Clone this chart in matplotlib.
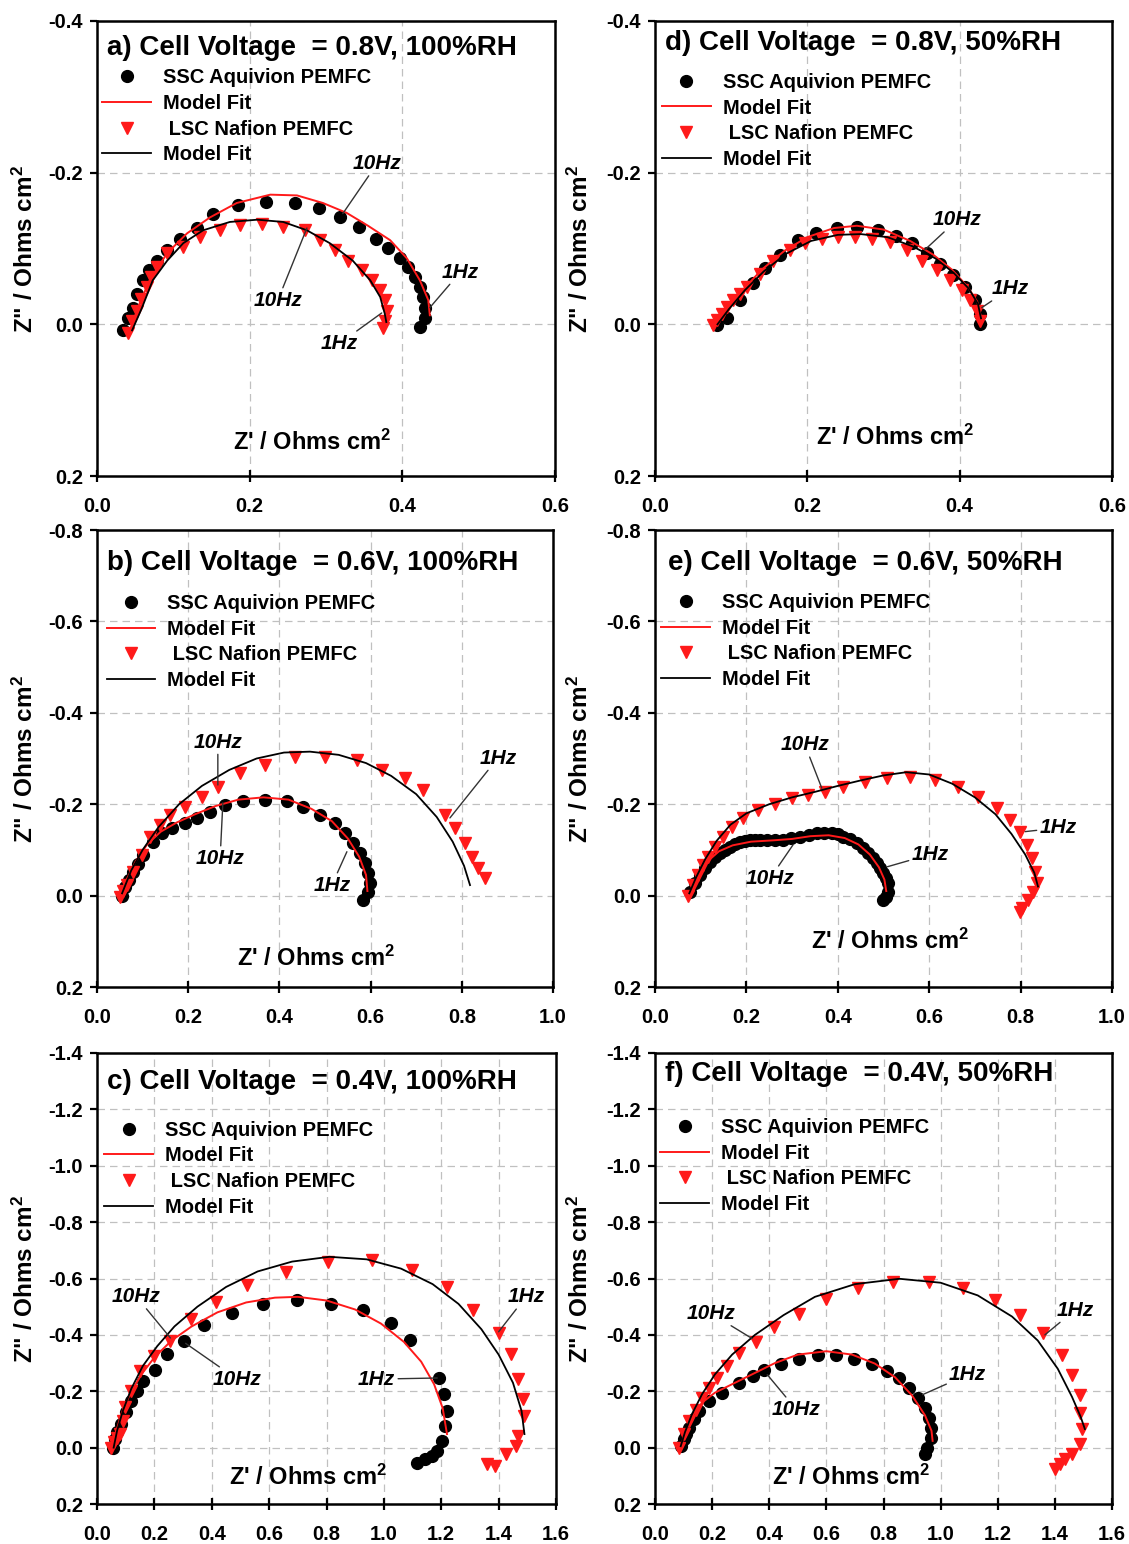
import matplotlib
matplotlib.use('Agg')
import matplotlib.pyplot as plt

plt.rcParams['font.family'] = ['Liberation Sans', 'DejaVu Sans']
plt.rcParams['font.weight'] = 'bold'
plt.rcParams['axes.unicode_minus'] = False
plt.rcParams['mathtext.fontset'] = 'custom'
plt.rcParams['mathtext.rm'] = 'Liberation Sans:bold'
plt.rcParams['mathtext.bf'] = 'Liberation Sans:bold'
plt.rcParams['mathtext.it'] = 'Liberation Sans:bold:italic'
plt.rcParams['mathtext.default'] = 'rm'

# ---------------- data ----------------
# Panel a: 0.8 V, 100 %RH
a_ssc_x = [0.034, 0.040, 0.047, 0.053, 0.060, 0.068, 0.078, 0.092, 0.109, 0.131, 0.152, 0.185, 0.222, 0.259,
           0.291, 0.318, 0.343, 0.366, 0.381, 0.397, 0.408, 0.417, 0.423, 0.427, 0.430, 0.430, 0.423]
a_ssc_y = [0.007, -0.008, -0.022, -0.040, -0.058, -0.072, -0.084, -0.098, -0.113, -0.127, -0.146, -0.157, -0.161, -0.160,
           -0.153, -0.141, -0.128, -0.112, -0.100, -0.088, -0.075, -0.062, -0.049, -0.036, -0.022, -0.009, 0.004]
a_lsc_x = [0.041, 0.046, 0.052, 0.058, 0.065, 0.071, 0.078, 0.092, 0.113, 0.135, 0.161, 0.187, 0.216,
           0.244, 0.272, 0.292, 0.312, 0.329, 0.347, 0.360, 0.371, 0.377, 0.380, 0.377, 0.375]
a_lsc_y = [0.011, -0.004, -0.018, -0.034, -0.049, -0.062, -0.075, -0.094, -0.102, -0.115, -0.124, -0.131, -0.132,
           -0.128, -0.125, -0.111, -0.098, -0.084, -0.071, -0.058, -0.045, -0.032, -0.018, -0.005, 0.005]
a_ssc_fit_x = [0.043, 0.056, 0.069, 0.092, 0.118, 0.148, 0.183, 0.227, 0.262, 0.296, 0.327, 0.355,
               0.384, 0.406, 0.423, 0.434, 0.436]
a_ssc_fit_y = [0.008, -0.028, -0.058, -0.094, -0.120, -0.141, -0.160, -0.171, -0.170, -0.160, -0.147, -0.130,
               -0.111, -0.087, -0.058, -0.032, -0.012]
a_lsc_fit_x = [0.046, 0.059, 0.073, 0.092, 0.113, 0.139, 0.174, 0.210, 0.244, 0.275, 0.305, 0.335,
               0.358, 0.371, 0.377, 0.379]
a_lsc_fit_y = [0.008, -0.022, -0.058, -0.084, -0.107, -0.124, -0.135, -0.138, -0.135, -0.124, -0.107, -0.084,
               -0.058, -0.036, -0.014, -0.003]

# Panel d: 0.8 V, 50 %RH
d_ssc_x = [0.081, 0.094, 0.112, 0.129, 0.144, 0.164, 0.188, 0.212, 0.239, 0.265, 0.293, 0.317, 0.337,
           0.357, 0.374, 0.391, 0.407, 0.420, 0.427, 0.427]
d_ssc_y = [0.001, -0.009, -0.032, -0.054, -0.074, -0.091, -0.111, -0.120, -0.127, -0.128, -0.124, -0.117, -0.107,
           -0.094, -0.080, -0.065, -0.049, -0.032, -0.014, -0.001]
d_lsc_x = [0.076, 0.082, 0.088, 0.095, 0.103, 0.112, 0.121, 0.138, 0.155, 0.177, 0.197, 0.219, 0.240, 0.263,
           0.285, 0.309, 0.331, 0.351, 0.370, 0.387, 0.403, 0.414, 0.423, 0.427]
d_lsc_y = [0.001, -0.006, -0.014, -0.023, -0.032, -0.040, -0.049, -0.067, -0.084, -0.098, -0.107, -0.113, -0.115,
           -0.115, -0.113, -0.108, -0.098, -0.084, -0.071, -0.058, -0.045, -0.032, -0.018, -0.005]
d_ssc_fit_x = [0.080, 0.095, 0.115, 0.140, 0.170, 0.200, 0.235, 0.265, 0.300, 0.335, 0.365, 0.390,
               0.410, 0.423, 0.428, 0.428]
d_ssc_fit_y = [0.000, -0.020, -0.045, -0.072, -0.097, -0.115, -0.127, -0.130, -0.125, -0.110, -0.092, -0.072,
               -0.050, -0.030, -0.010, 0.000]
d_lsc_fit_x = [0.082, 0.097, 0.118, 0.143, 0.172, 0.205, 0.240, 0.270, 0.305, 0.338, 0.368, 0.392,
               0.412, 0.424, 0.428]
d_lsc_fit_y = [0.000, -0.020, -0.045, -0.070, -0.093, -0.110, -0.118, -0.119, -0.115, -0.103, -0.087, -0.068,
               -0.047, -0.027, -0.008]

# Panel b: 0.6 V, 100 %RH
b_ssc_x = [0.055, 0.062, 0.070, 0.079, 0.090, 0.101, 0.123, 0.142, 0.164, 0.193, 0.219, 0.248, 0.281, 0.320,
           0.368, 0.416, 0.452, 0.489, 0.522, 0.544, 0.561, 0.577, 0.588, 0.594, 0.599, 0.594, 0.583]
b_ssc_y = [0.000, -0.018, -0.035, -0.052, -0.070, -0.089, -0.117, -0.137, -0.148, -0.159, -0.170, -0.183, -0.198,
           -0.207, -0.209, -0.207, -0.194, -0.176, -0.159, -0.137, -0.115, -0.093, -0.071, -0.049, -0.027, -0.007, 0.010]
b_lsc_x = [0.050, 0.058, 0.066, 0.079, 0.098, 0.116, 0.138, 0.160, 0.193, 0.230, 0.265, 0.314, 0.368, 0.434,
           0.500, 0.570, 0.625, 0.675, 0.715, 0.763, 0.785, 0.807, 0.822, 0.836, 0.851]
b_lsc_y = [0.003, -0.010, -0.023, -0.052, -0.089, -0.128, -0.155, -0.176, -0.194, -0.216, -0.238, -0.268, -0.286,
           -0.303, -0.303, -0.297, -0.275, -0.258, -0.231, -0.176, -0.148, -0.115, -0.085, -0.060, -0.039]
b_ssc_fit_x = [0.052, 0.065, 0.085, 0.110, 0.140, 0.175, 0.215, 0.260, 0.310, 0.365, 0.420, 0.470, 0.515,
               0.550, 0.575, 0.590, 0.593]
b_ssc_fit_y = [-0.003, -0.035, -0.075, -0.112, -0.140, -0.160, -0.178, -0.196, -0.210, -0.215, -0.210, -0.190,
               -0.163, -0.125, -0.085, -0.045, -0.010]
b_lsc_fit_x = [0.055, 0.075, 0.100, 0.135, 0.180, 0.230, 0.290, 0.350, 0.410, 0.467, 0.530, 0.590, 0.645,
               0.700, 0.745, 0.780, 0.805, 0.818]
b_lsc_fit_y = [-0.005, -0.055, -0.100, -0.150, -0.200, -0.240, -0.275, -0.300, -0.313, -0.315, -0.308, -0.290,
               -0.262, -0.222, -0.172, -0.118, -0.065, -0.023]

# Panel e: 0.6 V, 50 %RH
e_ssc_x = [0.077, 0.087, 0.098, 0.109, 0.120, 0.131, 0.142, 0.153, 0.164, 0.175, 0.186, 0.197, 0.208, 0.219,
           0.230, 0.245, 0.262, 0.280, 0.298, 0.317, 0.336, 0.354, 0.370, 0.387, 0.400, 0.411, 0.427, 0.442,
           0.455, 0.467, 0.477, 0.486, 0.493, 0.499, 0.505, 0.510, 0.510, 0.505, 0.499]
e_ssc_y = [-0.008, -0.027, -0.045, -0.060, -0.074, -0.085, -0.093, -0.100, -0.107, -0.112, -0.118, -0.120, -0.122,
           -0.122, -0.122, -0.122, -0.121, -0.122, -0.125, -0.129, -0.133, -0.136, -0.137, -0.136, -0.134, -0.129,
           -0.124, -0.116, -0.105, -0.093, -0.082, -0.071, -0.060, -0.050, -0.039, -0.028, -0.008, 0.003, 0.010]
e_lsc_x = [0.072, 0.083, 0.094, 0.105, 0.116, 0.131, 0.149, 0.168, 0.193, 0.225, 0.263, 0.300, 0.335, 0.372,
           0.411, 0.460, 0.508, 0.558, 0.613, 0.663, 0.707, 0.748, 0.777, 0.799, 0.814, 0.825, 0.832, 0.836,
           0.828, 0.816, 0.803, 0.799]
e_lsc_y = [0.000, -0.023, -0.045, -0.067, -0.085, -0.107, -0.129, -0.151, -0.170, -0.188, -0.201, -0.214, -0.221,
           -0.227, -0.238, -0.248, -0.257, -0.260, -0.253, -0.238, -0.216, -0.192, -0.166, -0.140, -0.111, -0.083,
           -0.052, -0.028, -0.008, 0.010, 0.028, 0.036]
e_ssc_fit_x = [0.078, 0.095, 0.115, 0.140, 0.170, 0.210, 0.260, 0.300, 0.340, 0.380, 0.415, 0.445, 0.470,
               0.490, 0.502, 0.506]
e_ssc_fit_y = [-0.005, -0.045, -0.075, -0.097, -0.110, -0.118, -0.121, -0.124, -0.130, -0.132, -0.126, -0.112,
               -0.090, -0.062, -0.035, -0.010]
e_lsc_fit_x = [0.075, 0.090, 0.110, 0.135, 0.165, 0.200, 0.250, 0.300, 0.350, 0.400, 0.450, 0.500, 0.550,
               0.600, 0.650, 0.700, 0.745, 0.780, 0.810, 0.830, 0.838]
e_lsc_fit_y = [-0.005, -0.040, -0.080, -0.120, -0.155, -0.180, -0.200, -0.215, -0.227, -0.240, -0.252, -0.263,
               -0.270, -0.265, -0.245, -0.215, -0.178, -0.135, -0.090, -0.050, -0.020]

# Panel c: 0.4 V, 100 %RH
c_ssc_x = [0.056, 0.062, 0.070, 0.085, 0.100, 0.120, 0.140, 0.162, 0.203, 0.243, 0.302, 0.372, 0.472, 0.578,
           0.698, 0.815, 0.928, 1.026, 1.091, 1.192, 1.210, 1.221, 1.214, 1.203, 1.185, 1.168, 1.143, 1.115]
c_ssc_y = [0.000, -0.030, -0.055, -0.084, -0.125, -0.165, -0.200, -0.236, -0.277, -0.331, -0.377, -0.436, -0.476,
           -0.511, -0.523, -0.511, -0.490, -0.441, -0.382, -0.247, -0.190, -0.130, -0.078, -0.024, 0.011, 0.030,
           0.041, 0.054]
c_lsc_x = [0.049, 0.060, 0.070, 0.081, 0.090, 0.098, 0.120, 0.151, 0.197, 0.256, 0.326, 0.414, 0.523, 0.660,
           0.804, 0.958, 1.098, 1.221, 1.312, 1.400, 1.442, 1.467, 1.484, 1.488, 1.467, 1.460, 1.425, 1.389, 1.361]
c_lsc_y = [0.000, -0.020, -0.035, -0.049, -0.095, -0.143, -0.201, -0.272, -0.324, -0.377, -0.455, -0.517, -0.578,
           -0.624, -0.659, -0.666, -0.631, -0.571, -0.490, -0.406, -0.331, -0.243, -0.173, -0.113, -0.042, -0.006,
           0.022, 0.064, 0.057]
c_ssc_fit_x = [0.055, 0.065, 0.085, 0.115, 0.155, 0.200, 0.260, 0.330, 0.420, 0.520, 0.620, 0.700, 0.800,
               0.900, 0.990, 1.070, 1.130, 1.175, 1.205, 1.220]
c_ssc_fit_y = [0.000, -0.050, -0.120, -0.190, -0.260, -0.320, -0.380, -0.430, -0.480, -0.515, -0.532, -0.535,
               -0.522, -0.490, -0.440, -0.375, -0.305, -0.225, -0.140, -0.048]
c_lsc_fit_x = [0.058, 0.070, 0.090, 0.120, 0.160, 0.210, 0.270, 0.350, 0.450, 0.560, 0.680, 0.810, 0.940,
               1.060, 1.170, 1.260, 1.340, 1.400, 1.450, 1.480, 1.490]
c_lsc_fit_y = [0.000, -0.060, -0.130, -0.210, -0.290, -0.360, -0.430, -0.500, -0.570, -0.625, -0.660, -0.677,
               -0.668, -0.635, -0.580, -0.510, -0.420, -0.330, -0.230, -0.130, -0.048]

# Panel f: 0.4 V, 50 %RH
f_ssc_x = [0.091, 0.100, 0.110, 0.119, 0.135, 0.154, 0.189, 0.235, 0.294, 0.342, 0.382, 0.441, 0.505, 0.570,
           0.634, 0.698, 0.758, 0.814, 0.856, 0.891, 0.921, 0.944, 0.961, 0.968, 0.968, 0.954, 0.944]
f_ssc_y = [-0.006, -0.030, -0.050, -0.070, -0.100, -0.130, -0.165, -0.193, -0.228, -0.253, -0.277, -0.298, -0.316,
           -0.330, -0.330, -0.316, -0.298, -0.271, -0.246, -0.211, -0.176, -0.140, -0.105, -0.070, -0.034, 0.000, 0.022]
f_lsc_x = [0.084, 0.102, 0.119, 0.144, 0.165, 0.189, 0.218, 0.253, 0.294, 0.354, 0.418, 0.505, 0.600, 0.709,
           0.832, 0.961, 1.077, 1.189, 1.277, 1.358, 1.425, 1.460, 1.488, 1.488, 1.495, 1.488, 1.460, 1.435,
           1.418, 1.400]
f_lsc_y = [0.000, -0.047, -0.094, -0.135, -0.176, -0.211, -0.246, -0.288, -0.334, -0.376, -0.429, -0.475, -0.528,
           -0.567, -0.588, -0.588, -0.567, -0.524, -0.471, -0.405, -0.330, -0.259, -0.188, -0.123, -0.066, -0.012,
           0.022, 0.040, 0.058, 0.076]
f_ssc_fit_x = [0.090, 0.105, 0.130, 0.165, 0.210, 0.270, 0.340, 0.420, 0.500, 0.600, 0.690, 0.770, 0.840,
               0.900, 0.945, 0.968, 0.972]
f_ssc_fit_y = [-0.005, -0.050, -0.110, -0.160, -0.195, -0.225, -0.260, -0.300, -0.330, -0.342, -0.330, -0.298,
               -0.250, -0.185, -0.115, -0.060, -0.024]
f_lsc_fit_x = [0.090, 0.105, 0.130, 0.165, 0.210, 0.270, 0.350, 0.450, 0.560, 0.700, 0.856, 1.000, 1.130,
               1.250, 1.340, 1.410, 1.460, 1.490, 1.505]
f_lsc_fit_y = [-0.005, -0.055, -0.120, -0.190, -0.260, -0.330, -0.400, -0.470, -0.535, -0.580, -0.599, -0.585,
               -0.540, -0.465, -0.380, -0.280, -0.180, -0.110, -0.066]

legend_labels = ['SSC Aquivion PEMFC', 'Model Fit', ' LSC Nafion PEMFC', 'Model Fit']
titles = {
    'a': 'a) Cell Voltage  = 0.8V, 100%RH', 'd': 'd) Cell Voltage  = 0.8V, 50%RH',
    'b': 'b) Cell Voltage  = 0.6V, 100%RH', 'e': 'e) Cell Voltage  = 0.6V, 50%RH',
    'c': 'c) Cell Voltage  = 0.4V, 100%RH', 'f': 'f) Cell Voltage  = 0.4V, 50%RH',
}
x_ticks = {'a': [0.0, 0.2, 0.4, 0.6], 'd': [0.0, 0.2, 0.4, 0.6],
           'b': [0.0, 0.2, 0.4, 0.6, 0.8, 1.0], 'e': [0.0, 0.2, 0.4, 0.6, 0.8, 1.0],
           'c': [0.0, 0.2, 0.4, 0.6, 0.8, 1.0, 1.2, 1.4, 1.6], 'f': [0.0, 0.2, 0.4, 0.6, 0.8, 1.0, 1.2, 1.4, 1.6]}
y_ticks = {'a': [-0.4, -0.2, 0.0, 0.2], 'd': [-0.4, -0.2, 0.0, 0.2],
           'b': [-0.8, -0.6, -0.4, -0.2, 0.0, 0.2], 'e': [-0.8, -0.6, -0.4, -0.2, 0.0, 0.2],
           'c': [-1.4, -1.2, -1.0, -0.8, -0.6, -0.4, -0.2, 0.0, 0.2],
           'f': [-1.4, -1.2, -1.0, -0.8, -0.6, -0.4, -0.2, 0.0, 0.2]}

# frequency annotations: (label, text position, curve point)
freq_notes = {
    'a': [('10Hz', (0.367, -0.212), (0.322, -0.146)), ('10Hz', (0.237, -0.032), (0.275, -0.127)),
          ('1Hz', (0.476, -0.069), (0.436, -0.022)), ('1Hz', (0.318, 0.025), (0.373, -0.015))],
    'd': [('10Hz', (0.397, -0.138), (0.354, -0.098)), ('1Hz', (0.466, -0.047), (0.429, -0.022))],
    'b': [('10Hz', (0.265, -0.336), (0.265, -0.242)), ('10Hz', (0.270, -0.082), (0.276, -0.203)),
          ('1Hz', (0.879, -0.301), (0.774, -0.170)), ('1Hz', (0.515, -0.023), (0.548, -0.096))],
    'e': [('10Hz', (0.328, -0.330), (0.365, -0.235)), ('10Hz', (0.252, -0.038), (0.302, -0.111)),
          ('1Hz', (0.882, -0.148), (0.810, -0.140)), ('1Hz', (0.602, -0.090), (0.508, -0.063))],
    'c': [('10Hz', (0.137, -0.536), (0.256, -0.389)), ('10Hz', (0.488, -0.243), (0.309, -0.370)),
          ('1Hz', (1.495, -0.535), (1.400, -0.411)), ('1Hz', (0.975, -0.243), (1.186, -0.247))],
    'f': [('10Hz', (0.196, -0.476), (0.340, -0.387)), ('10Hz', (0.494, -0.136), (0.393, -0.259)),
          ('1Hz', (1.470, -0.488), (1.365, -0.400)), ('1Hz', (1.095, -0.259), (0.937, -0.188))],
}

panels = {
    'a': (a_ssc_x, a_ssc_y, a_ssc_fit_x, a_ssc_fit_y, a_lsc_x, a_lsc_y, a_lsc_fit_x, a_lsc_fit_y),
    'd': (d_ssc_x, d_ssc_y, d_ssc_fit_x, d_ssc_fit_y, d_lsc_x, d_lsc_y, d_lsc_fit_x, d_lsc_fit_y),
    'b': (b_ssc_x, b_ssc_y, b_ssc_fit_x, b_ssc_fit_y, b_lsc_x, b_lsc_y, b_lsc_fit_x, b_lsc_fit_y),
    'e': (e_ssc_x, e_ssc_y, e_ssc_fit_x, e_ssc_fit_y, e_lsc_x, e_lsc_y, e_lsc_fit_x, e_lsc_fit_y),
    'c': (c_ssc_x, c_ssc_y, c_ssc_fit_x, c_ssc_fit_y, c_lsc_x, c_lsc_y, c_lsc_fit_x, c_lsc_fit_y),
    'f': (f_ssc_x, f_ssc_y, f_ssc_fit_x, f_ssc_fit_y, f_lsc_x, f_lsc_y, f_lsc_fit_x, f_lsc_fit_y),
}

# ---------------- layout (pixels) ----------------
W, H = 1129, 1544
boxes = {  # left, right, top, bottom in pixels
    'a': (97, 555, 21, 476), 'd': (655, 1112, 21, 476),
    'b': (97, 553, 530, 987), 'e': (655, 1112, 530, 987),
    'c': (97, 556, 1053, 1504), 'f': (655, 1112, 1053, 1504),
}
title_pos = {'a': (0.022, 0.940), 'd': (0.022, 0.951), 'b': (0.022, 0.928),
             'e': (0.029, 0.928), 'c': (0.022, 0.936), 'f': (0.022, 0.953)}
legend_pos = {'a': (0.012, 0.896), 'd': (0.016, 0.886), 'b': (0.022, 0.860),
              'e': (0.014, 0.862), 'c': (0.016, 0.850), 'f': (0.012, 0.856)}
xlabel_pos = {'a': (0.47, 0.073), 'd': (0.525, 0.086), 'b': (0.48, 0.063),
              'e': (0.514, 0.100), 'c': (0.46, 0.060), 'f': (0.43, 0.060)}
ylabel_x = {'a': -0.129, 'b': -0.129, 'c': -0.129, 'd': -0.136, 'e': -0.136, 'f': -0.136}

RED = '#ff1a1a'
fig = plt.figure(figsize=(W / 100, H / 100), dpi=100)

for key, (l, r, t, b) in boxes.items():
    ax = fig.add_axes([l / W, 1 - b / H, (r - l) / W, (b - t) / H])
    sx, sy, sfx, sfy, lx, ly, lfx, lfy = panels[key]
    xt, yt = x_ticks[key], y_ticks[key]
    ax.set_xlim(xt[0], xt[-1])
    ax.set_ylim(yt[-1], yt[0])
    ax.set_xticks(xt)
    ax.set_yticks(yt)
    ax.set_xticklabels([f'{v:.1f}' for v in xt])
    ax.set_yticklabels([f'{v:.1f}' for v in yt])
    ax.tick_params(axis='x', direction='inout', length=8, width=1.6, labelsize=14.5, pad=11)
    ax.tick_params(axis='y', direction='out', length=5, width=1.6, labelsize=14.5, pad=5)
    for s in ax.spines.values():
        s.set_linewidth(1.8)
    ax.grid(True, color='#c0c0c0', linestyle=(0, (6, 4)), linewidth=0.9)
    ax.set_axisbelow(True)

    h1, = ax.plot(sx, sy, 'o', color='black', markersize=8.5, linestyle='none', zorder=3)
    h3, = ax.plot(lx, ly, 'v', color=RED, markersize=9, linestyle='none', zorder=4)
    h2, = ax.plot(sfx, sfy, '-', color=RED, linewidth=1.4, zorder=5)
    h4, = ax.plot(lfx, lfy, '-', color='black', linewidth=1.3, zorder=6)

    ax.text(title_pos[key][0], title_pos[key][1], titles[key], transform=ax.transAxes,
            fontsize=20, fontweight='bold', ha='left', va='center')
    ax.legend([h1, h2, h3, h4], legend_labels, loc='upper left',
              bbox_to_anchor=legend_pos[key], frameon=False,
              handlelength=2.4, handletextpad=0.6, labelspacing=0.33, borderpad=0,
              borderaxespad=0, prop={'weight': 'bold', 'size': 14.5})
    ax.text(xlabel_pos[key][0], xlabel_pos[key][1], "Z' / Ohms cm$^2$", transform=ax.transAxes,
            fontsize=17, fontweight='bold', ha='center', va='center')
    ax.set_ylabel('Z" / Ohms cm$^2$', fontsize=17.5, fontweight='bold')
    ax.yaxis.set_label_coords(ylabel_x[key], 0.5)

    for txt, tpos, pt in freq_notes[key]:
        ax.annotate(txt, xy=pt, xytext=tpos, fontsize=15, fontweight='bold', fontstyle='italic',
                    ha='center', va='center', zorder=7,
                    arrowprops=dict(arrowstyle='-', color='#333333', lw=1.0,
                                    shrinkA=0, shrinkB=0))

fig.savefig('out.png', dpi=100)
